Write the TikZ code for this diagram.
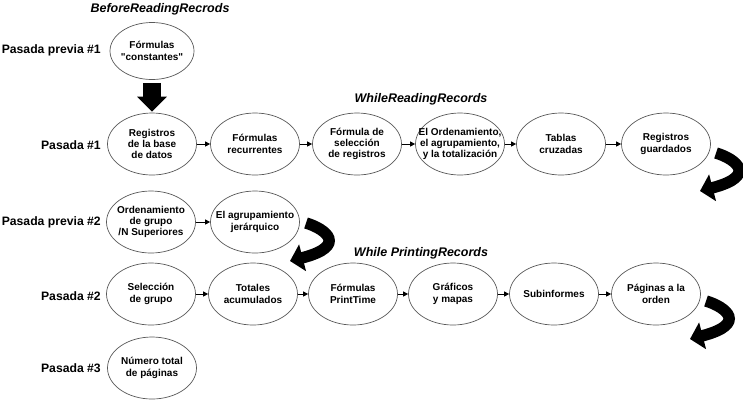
\documentclass[tikz,border=0pt]{standalone}
\usepackage{fontspec}
\setmainfont{Liberation Sans}
% plain family without TeX ligature mapping, so " stays a straight quote
\newfontfamily\diagfont{Liberation Sans}
\usetikzlibrary{shapes.geometric,arrows.meta}
\tikzset{
  stage/.style={ellipse,draw=black!65,line width=0.7pt,minimum width=89pt,minimum height=62pt,inner sep=0pt},
  stagetext/.style={align=center,font=\diagfont\bfseries\fontsize{10}{11.3}\selectfont,inner sep=0pt},
  pass/.style={anchor=east,font=\diagfont\bfseries\fontsize{12.2}{14}\selectfont,inner sep=0pt},
  phase/.style={font=\diagfont\bfseries\itshape\fontsize{12.5}{15}\selectfont,inner sep=0pt},
  link/.style={line width=0.9pt,-{Triangle[length=5pt,width=5pt]}},
  bigdown/.style={line width=18pt,-{Triangle[length=15pt,width=29pt]}},
  turn/.pic={\draw[line width=11.5pt,-{Triangle[length=13pt,width=27pt]}]
    (16,-38) .. controls (36,-32) and (58,-15) .. (0,0);}
}
\begin{document}
\begin{tikzpicture}[x=1pt,y=-1pt]
\useasboundingbox (0,0) rectangle (743,400);

% phase titles
\node[phase] (tbefore) at (160,9) {BeforeReadingRecrods};
\node[phase] (twhile) at (421,99) {WhileReadingRecords};
\node[phase] (tprint) at (421,253) {While PrintingRecords};

% pass labels
\node[pass] (lp1) at (101,50) {Pasada previa \#1};
\node[pass] (l1) at (101,145) {Pasada \#1};
\node[pass] (lp2) at (101,222) {Pasada previa \#2};
\node[pass] (l2) at (101,296) {Pasada \#2};
\node[pass] (l3) at (101,368) {Pasada \#3};

% pre-pass 1
\node[stage,minimum width=84pt,minimum height=57pt] (p1) at (152,51) {};
\node[stagetext] (p1t) at (p1) {Fórmulas\\"constantes"};

% pass 1
\node[stage] (a1) at (152,144) {};
\node[stage] (a2) at (255,144) {};
\node[stage] (a3) at (357,144) {};
\node[stage] (a4) at (460,144) {};
\node[stage] (a5) at (561,144) {};
\node[stage] (a6) at (666,144) {};
\node[stagetext] (a1t) at (a1) {Registros\\de la base\\de datos};
\node[stagetext] (a2t) at (a2) {Fórmulas\\recurrentes};
\node[stagetext] (a3t) at (a3) {Fórmula de\\selección\\de registros};
\node[stagetext] (a4t) at (a4) {El Ordenamiento,\\el agrupamiento,\\y la totalización};
\node[stagetext] (a5t) at (a5) {Tablas\\cruzadas};
\node[stagetext] (a6t) at (a6) {Registros\\guardados};

% pre-pass 2
\node[stage] (b1) at (151,222) {};
\node[stage] (b2) at (255,222) {};
\node[stagetext] (b1t) at (b1) {Ordenamiento\\de grupo\\/N Superiores};
\node[stagetext] (b2t) at (b2) {El agrupamiento\\jerárquico};

% pass 2
\node[stage] (c1) at (151,294) {};
\node[stage] (c2) at (253,294) {};
\node[stage] (c3) at (353,294) {};
\node[stage] (c4) at (453,294) {};
\node[stage] (c5) at (554,294) {};
\node[stage] (c6) at (656,294) {};
\node[stagetext] (c1t) at (c1) {Selección\\de grupo};
\node[stagetext] (c2t) at (c2) {Totales\\acumulados};
\node[stagetext] (c3t) at (c3) {Fórmulas\\PrintTime};
\node[stagetext] (c4t) at (c4) {Gráficos\\y mapas};
\node[stagetext] (c5t) at (c5) {Subinformes};
\node[stagetext] (c6t) at (c6) {Páginas a la\\orden};

% pass 3
\node[stage] (d1) at (152,368) {};
\node[stagetext] (d1t) at (d1) {Número total\\de páginas};

% connectors
\draw[bigdown,shorten <=3pt,shorten >=1pt] (p1.south) -- (a1.north);
\foreach \u/\v in {a1/a2,a2/a3,a3/a4,a4/a5,a5/a6,b1/b2,c1/c2,c2/c3,c3/c4,c4/c5,c5/c6}
  \draw[link] (\u) -- (\v);

% turning arrows between passes
\pic at (700,191) {turn};
\pic at (290,261) {turn};
\pic at (690,339) {turn};
\end{tikzpicture}
\end{document}
